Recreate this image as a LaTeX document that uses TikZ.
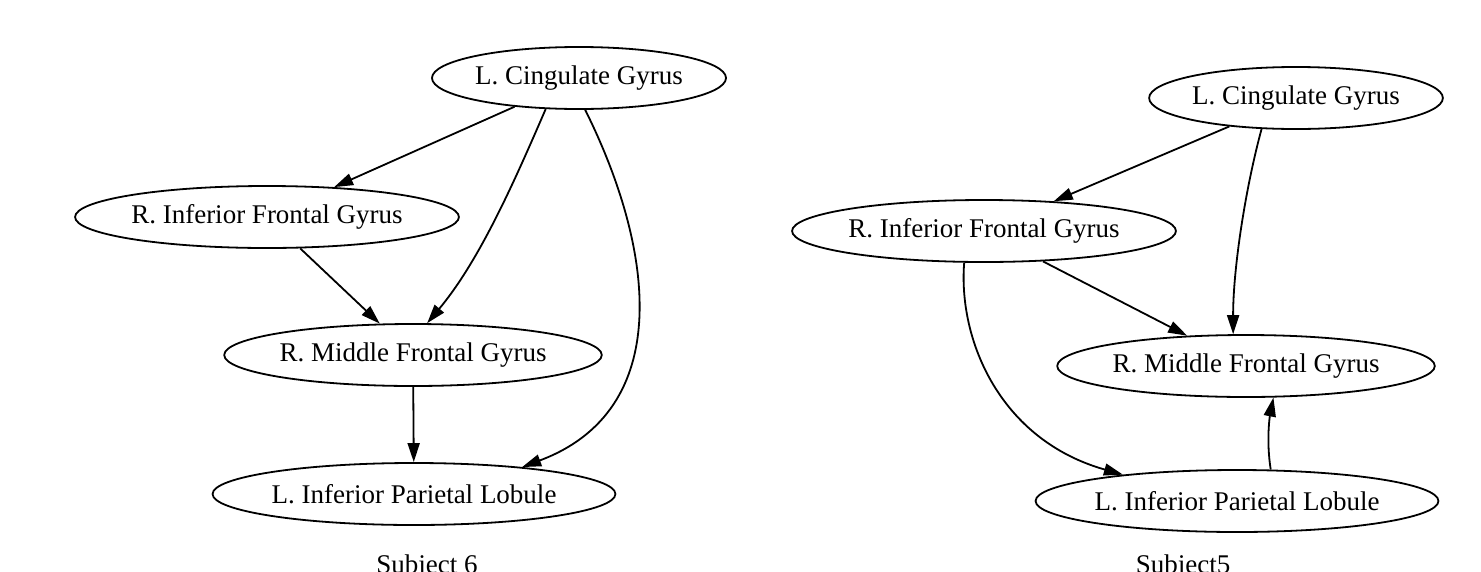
\documentclass[tikz,border=0pt]{standalone}
\usepackage{fontspec}
\setmainfont{Liberation Serif}
\usetikzlibrary{shapes.geometric,arrows.meta}
\begin{document}
\begin{tikzpicture}[x=1pt,y=-1pt,
  region/.style={draw,ellipse,line width=1.8pt,inner sep=0pt,
    font=\fontsize{27}{32}\selectfont,minimum height=62pt},
  edge/.style={line width=1.8pt,-{Triangle[length=19pt,width=12pt]}},
  caption/.style={anchor=base,font=\fontsize{27}{32}\selectfont}]
\useasboundingbox (0,0) rectangle (1481,571);
% Subject 6
\node[region,minimum width=294pt] (lcg) at (579,78) {L. Cingulate Gyrus};
\node[region,minimum width=380pt] (rifg) at (267,217) {R. Inferior Frontal Gyrus};
\node[region,minimum width=371pt] (rmfg) at (413,355) {R. Middle Frontal Gyrus};
\node[region,minimum width=389pt] (lipl) at (414,494) {L. Inferior Parietal Lobule};
\node[caption] (cap6) at (427,573) {Subject 6};
\draw[edge] (lcg) -- (rifg);
\draw[edge] (lcg.223) .. controls (515,180) and (480,260) .. (rmfg.66);
\draw[edge] (lcg.281) .. controls (655,250) and (675,410) .. (lipl.14);
\draw[edge] (rifg) -- (rmfg);
\draw[edge] (rmfg) -- (lipl);
% Subject5
\node[region,minimum width=293pt] (lcgb) at (1296,98) {L. Cingulate Gyrus};
\node[region,minimum width=369pt] (rifgb) at (984,231) {R. Inferior Frontal Gyrus};
\node[region,minimum width=355pt] (rmfgb) at (1246,366) {R. Middle Frontal Gyrus};
\node[region,minimum width=389pt] (liplb) at (1237,501) {L. Inferior Parietal Lobule};
\node[caption] (cap5) at (1183,573) {Subject5};
\draw[edge] (lcgb) -- (rifgb);
\draw[edge] (lcgb.222) .. controls (1245,190) and (1233,270) .. (rmfgb.112);
\draw[edge] (rifgb) -- (rmfgb);
\draw[edge] (rifgb.238) .. controls (958,340) and (1000,440) .. (liplb.167);
\draw[edge] (liplb.43) .. controls (1266,440) and (1270,415) .. (rmfgb.311);
\end{tikzpicture}
\end{document}
